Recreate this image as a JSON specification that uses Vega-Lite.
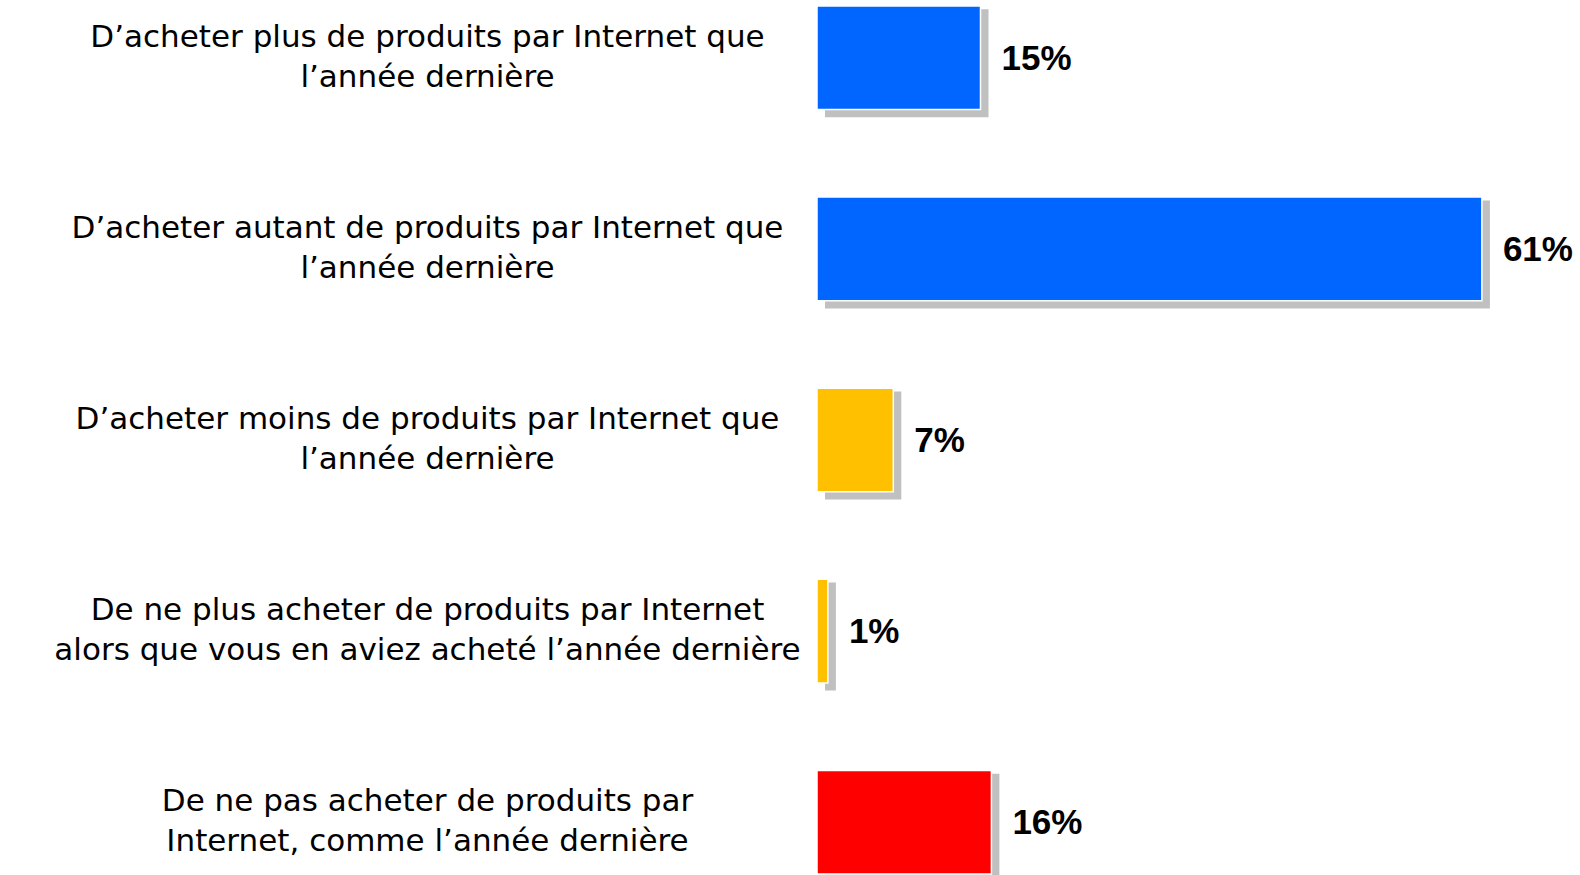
{
  "$schema": "https://vega.github.io/schema/vega-lite/v6.json",
  "width": 763,
  "height": 880,
  "autosize": {"type": "none"},
  "padding": {"left": 817, "top": 0, "right": 0, "bottom": 0},
  "background": "white",
  "config": {"view": {"stroke": null}},
  "data": {
    "values": [
      {"libelle": "D’acheter plus de produits par Internet que|l’année dernière", "valeur": 15, "groupe": "hausse"},
      {"libelle": "D’acheter autant de produits par Internet que|l’année dernière", "valeur": 61, "groupe": "hausse"},
      {"libelle": "D’acheter moins de produits par Internet que|l’année dernière", "valeur": 7, "groupe": "baisse"},
      {"libelle": "De ne plus acheter de produits par Internet|alors que vous en aviez acheté l’année dernière", "valeur": 1, "groupe": "baisse"},
      {"libelle": "De ne pas acheter de produits par|Internet, comme l’année dernière", "valeur": 16, "groupe": "aucun"}
    ]
  },
  "transform": [
    {"calculate": "datum.valeur + '%'", "as": "etiquette"}
  ],
  "encoding": {
    "y": {
      "field": "libelle",
      "type": "nominal",
      "sort": null,
      "scale": {"paddingInner": 0.5, "paddingOuter": 0.0523},
      "axis": {
        "title": null,
        "domain": false,
        "ticks": false,
        "tickSize": 0,
        "labelExpr": "split(datum.value, '|')",
        "labelFont": "DejaVu Sans",
        "labelFontSize": 31,
        "labelLineHeight": 40,
        "labelColor": "#000000",
        "labelAlign": "center",
        "labelBaseline": "middle",
        "labelPadding": 390,
        "labelOffset": -20,
        "labelLimit": 0
      }
    },
    "x": {
      "field": "valeur",
      "type": "quantitative",
      "scale": {"domain": [0, 70], "nice": false},
      "axis": null
    }
  },
  "layer": [
    {
      "mark": {"type": "bar", "height": 108, "color": "#C0C0C0", "xOffset": 8, "x2Offset": 3, "yOffset": 5.5}
    },
    {
      "mark": {"type": "bar", "height": 103.6, "stroke": "#FFFFFF", "strokeWidth": 1.5},
      "encoding": {
        "color": {
          "field": "groupe",
          "type": "nominal",
          "scale": {"domain": ["hausse", "baisse", "aucun"], "range": ["#0066FF", "#FFC000", "#FF0000"]},
          "legend": null
        }
      }
    },
    {
      "mark": {"type": "text", "align": "left", "baseline": "middle", "dx": 21, "dy": 1, "font": "Liberation Sans", "fontWeight": "bold", "fontSize": 35, "color": "#000000"},
      "encoding": {
        "text": {"field": "etiquette", "type": "nominal"}
      }
    }
  ]
}
